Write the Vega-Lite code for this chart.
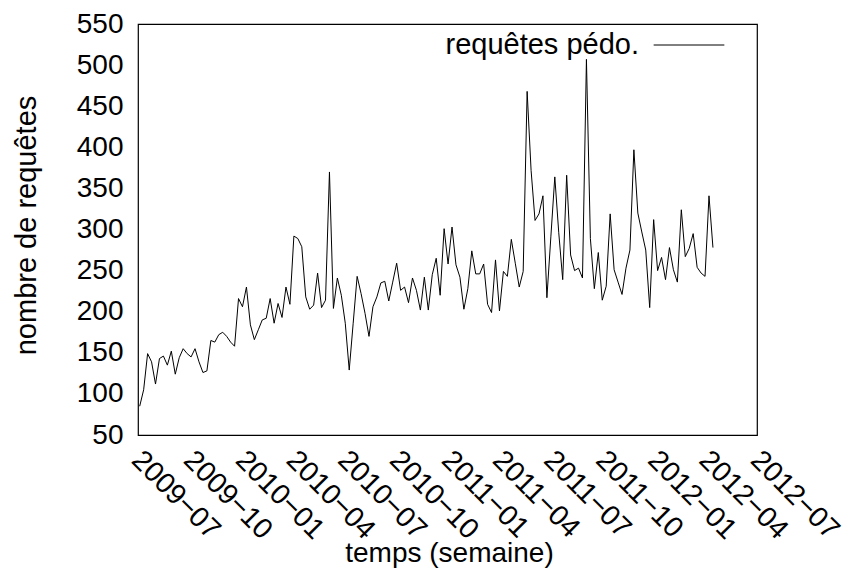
{
  "$schema": "https://vega.github.io/schema/vega-lite/v6.json",
  "width": 619,
  "height": 411,
  "autosize": "none",
  "padding": {"left": 138, "top": 24, "right": 90, "bottom": 143},
  "background": "white",
  "config": {
    "view": {"stroke": "black", "strokeWidth": 1.2},
    "font": "Liberation Sans",
    "axis": {"grid": false, "domainColor": "black", "tickColor": "black", "labelColor": "black", "titleColor": "black", "titleFontWeight": "normal", "labelFont": "Liberation Sans", "titleFont": "Liberation Sans"}
  },
  "data": {"values": [
    {"semaine": "2009-07-04", "requetes": 85},
    {"semaine": "2009-07-11", "requetes": 105},
    {"semaine": "2009-07-18", "requetes": 149},
    {"semaine": "2009-07-25", "requetes": 139},
    {"semaine": "2009-08-01", "requetes": 112},
    {"semaine": "2009-08-08", "requetes": 143},
    {"semaine": "2009-08-15", "requetes": 146},
    {"semaine": "2009-08-22", "requetes": 135},
    {"semaine": "2009-08-29", "requetes": 152},
    {"semaine": "2009-09-05", "requetes": 124},
    {"semaine": "2009-09-12", "requetes": 144},
    {"semaine": "2009-09-19", "requetes": 155},
    {"semaine": "2009-09-26", "requetes": 149},
    {"semaine": "2009-10-03", "requetes": 145},
    {"semaine": "2009-10-10", "requetes": 155},
    {"semaine": "2009-10-17", "requetes": 139},
    {"semaine": "2009-10-24", "requetes": 126},
    {"semaine": "2009-10-31", "requetes": 128},
    {"semaine": "2009-11-07", "requetes": 165},
    {"semaine": "2009-11-14", "requetes": 163},
    {"semaine": "2009-11-21", "requetes": 172},
    {"semaine": "2009-11-28", "requetes": 175},
    {"semaine": "2009-12-05", "requetes": 170},
    {"semaine": "2009-12-12", "requetes": 163},
    {"semaine": "2009-12-19", "requetes": 158},
    {"semaine": "2009-12-26", "requetes": 216},
    {"semaine": "2010-01-02", "requetes": 206},
    {"semaine": "2010-01-09", "requetes": 230},
    {"semaine": "2010-01-16", "requetes": 184},
    {"semaine": "2010-01-23", "requetes": 166},
    {"semaine": "2010-01-30", "requetes": 178},
    {"semaine": "2010-02-06", "requetes": 190},
    {"semaine": "2010-02-13", "requetes": 192},
    {"semaine": "2010-02-20", "requetes": 216},
    {"semaine": "2010-02-27", "requetes": 186},
    {"semaine": "2010-03-06", "requetes": 210},
    {"semaine": "2010-03-13", "requetes": 193},
    {"semaine": "2010-03-20", "requetes": 230},
    {"semaine": "2010-03-27", "requetes": 209},
    {"semaine": "2010-04-03", "requetes": 292},
    {"semaine": "2010-04-10", "requetes": 289},
    {"semaine": "2010-04-17", "requetes": 279},
    {"semaine": "2010-04-24", "requetes": 218},
    {"semaine": "2010-05-01", "requetes": 203},
    {"semaine": "2010-05-08", "requetes": 208},
    {"semaine": "2010-05-15", "requetes": 247},
    {"semaine": "2010-05-22", "requetes": 205},
    {"semaine": "2010-05-29", "requetes": 214},
    {"semaine": "2010-06-05", "requetes": 370},
    {"semaine": "2010-06-12", "requetes": 204},
    {"semaine": "2010-06-19", "requetes": 241},
    {"semaine": "2010-06-26", "requetes": 220},
    {"semaine": "2010-07-03", "requetes": 186},
    {"semaine": "2010-07-10", "requetes": 129},
    {"semaine": "2010-07-17", "requetes": 186},
    {"semaine": "2010-07-24", "requetes": 243},
    {"semaine": "2010-07-31", "requetes": 222},
    {"semaine": "2010-08-07", "requetes": 198},
    {"semaine": "2010-08-14", "requetes": 170},
    {"semaine": "2010-08-21", "requetes": 206},
    {"semaine": "2010-08-28", "requetes": 218},
    {"semaine": "2010-09-04", "requetes": 235},
    {"semaine": "2010-09-11", "requetes": 237},
    {"semaine": "2010-09-18", "requetes": 213},
    {"semaine": "2010-09-25", "requetes": 236},
    {"semaine": "2010-10-02", "requetes": 259},
    {"semaine": "2010-10-09", "requetes": 226},
    {"semaine": "2010-10-16", "requetes": 230},
    {"semaine": "2010-10-23", "requetes": 211},
    {"semaine": "2010-10-30", "requetes": 241},
    {"semaine": "2010-11-06", "requetes": 226},
    {"semaine": "2010-11-13", "requetes": 202},
    {"semaine": "2010-11-20", "requetes": 242},
    {"semaine": "2010-11-27", "requetes": 202},
    {"semaine": "2010-12-04", "requetes": 245},
    {"semaine": "2010-12-11", "requetes": 265},
    {"semaine": "2010-12-18", "requetes": 220},
    {"semaine": "2010-12-25", "requetes": 301},
    {"semaine": "2011-01-01", "requetes": 258},
    {"semaine": "2011-01-08", "requetes": 303},
    {"semaine": "2011-01-15", "requetes": 257},
    {"semaine": "2011-01-22", "requetes": 242},
    {"semaine": "2011-01-29", "requetes": 203},
    {"semaine": "2011-02-05", "requetes": 228},
    {"semaine": "2011-02-12", "requetes": 274},
    {"semaine": "2011-02-19", "requetes": 246},
    {"semaine": "2011-02-26", "requetes": 246},
    {"semaine": "2011-03-05", "requetes": 258},
    {"semaine": "2011-03-12", "requetes": 209},
    {"semaine": "2011-03-19", "requetes": 199},
    {"semaine": "2011-03-26", "requetes": 263},
    {"semaine": "2011-04-02", "requetes": 201},
    {"semaine": "2011-04-09", "requetes": 249},
    {"semaine": "2011-04-16", "requetes": 243},
    {"semaine": "2011-04-23", "requetes": 288},
    {"semaine": "2011-04-30", "requetes": 259},
    {"semaine": "2011-05-07", "requetes": 230},
    {"semaine": "2011-05-14", "requetes": 249},
    {"semaine": "2011-05-21", "requetes": 468},
    {"semaine": "2011-05-28", "requetes": 372},
    {"semaine": "2011-06-04", "requetes": 311},
    {"semaine": "2011-06-11", "requetes": 319},
    {"semaine": "2011-06-18", "requetes": 341},
    {"semaine": "2011-06-25", "requetes": 217},
    {"semaine": "2011-07-02", "requetes": 291},
    {"semaine": "2011-07-09", "requetes": 364},
    {"semaine": "2011-07-16", "requetes": 296},
    {"semaine": "2011-07-23", "requetes": 239},
    {"semaine": "2011-07-30", "requetes": 366},
    {"semaine": "2011-08-06", "requetes": 269},
    {"semaine": "2011-08-13", "requetes": 250},
    {"semaine": "2011-08-20", "requetes": 253},
    {"semaine": "2011-08-27", "requetes": 241},
    {"semaine": "2011-09-03", "requetes": 507},
    {"semaine": "2011-09-10", "requetes": 289},
    {"semaine": "2011-09-17", "requetes": 228},
    {"semaine": "2011-09-24", "requetes": 272},
    {"semaine": "2011-10-01", "requetes": 214},
    {"semaine": "2011-10-08", "requetes": 231},
    {"semaine": "2011-10-15", "requetes": 319},
    {"semaine": "2011-10-22", "requetes": 251},
    {"semaine": "2011-10-29", "requetes": 236},
    {"semaine": "2011-11-05", "requetes": 221},
    {"semaine": "2011-11-12", "requetes": 253},
    {"semaine": "2011-11-19", "requetes": 275},
    {"semaine": "2011-11-26", "requetes": 397},
    {"semaine": "2011-12-03", "requetes": 320},
    {"semaine": "2011-12-10", "requetes": 297},
    {"semaine": "2011-12-17", "requetes": 275},
    {"semaine": "2011-12-24", "requetes": 205},
    {"semaine": "2011-12-31", "requetes": 312},
    {"semaine": "2012-01-07", "requetes": 250},
    {"semaine": "2012-01-14", "requetes": 266},
    {"semaine": "2012-01-21", "requetes": 239},
    {"semaine": "2012-01-28", "requetes": 278},
    {"semaine": "2012-02-04", "requetes": 251},
    {"semaine": "2012-02-11", "requetes": 236},
    {"semaine": "2012-02-18", "requetes": 324},
    {"semaine": "2012-02-25", "requetes": 267},
    {"semaine": "2012-03-03", "requetes": 277},
    {"semaine": "2012-03-10", "requetes": 295},
    {"semaine": "2012-03-17", "requetes": 254},
    {"semaine": "2012-03-24", "requetes": 247},
    {"semaine": "2012-03-31", "requetes": 243},
    {"semaine": "2012-04-07", "requetes": 341},
    {"semaine": "2012-04-14", "requetes": 278}
  ]},
  "mark": {"type": "line", "color": "black", "strokeWidth": 1, "clip": true},
  "encoding": {
    "x": {
      "field": "semaine",
      "type": "temporal",
      "scale": {"type": "utc", "domain": [{"year": 2009, "month": 7, "date": 1, "utc": true}, {"year": 2012, "month": 7, "date": 1, "utc": true}], "nice": false},
      "axis": {
        "title": "temps (semaine)",
        "titleFontSize": 28,
        "titleX": 311,
        "titleY": 126,
        "titleBaseline": "alphabetic",
        "tickCount": {"interval": "month", "step": 1},
        "tickSize": 0,
        "tickWidth": 1,
        "labelExpr": "utcmonth(datum.value) % 3 == 0 ? utcFormat(datum.value, '%Y\u2212%m') : ''",
        "labelAngle": 45,
        "labelAlign": "left",
        "labelBaseline": "top",
        "labelPadding": 10,
        "labelOffset": 8,
        "labelFontSize": 28.5,
        "labelOverlap": false,
        "labelFlush": false,
        "labelBound": false,
        "domain": false,
        "encode": {"ticks": {"update": {"y2": {"signal": "utcmonth(datum.value) % 3 == 0 ? -9 : -5"}}}}
      }
    },
    "y": {
      "field": "requetes",
      "type": "quantitative",
      "scale": {"domain": [50, 550], "nice": false, "zero": false},
      "axis": {
        "title": "nombre de requêtes",
        "titleFontSize": 29,
        "titleX": -97,
        "titleY": 201,
        "values": [50, 100, 150, 200, 250, 300, 350, 400, 450, 500, 550],
        "tickSize": 0,
        "tickWidth": 1,
        "labelPadding": 15,
        "labelFontSize": 28,
        "labelOverlap": false,
        "labelFlush": false,
        "domain": false,
        "encode": {"ticks": {"update": {"x2": {"value": 8}}}}
      }
    },
    "color": {
      "datum": "requêtes pédo.",
      "scale": {"range": ["black"]},
      "legend": {
        "title": null,
        "orient": "none",
        "legendX": 515,
        "legendY": -15,
        "padding": 0,
        "symbolType": "stroke",
        "symbolSize": 5000,
        "symbolStrokeWidth": 1,
        "symbolStrokeColor": "black",
        "labelFontSize": 29,
        "labelFont": "Liberation Sans",
        "labelColor": "black",
        "labelAlign": "right",
        "labelOffset": -86,
        "labelLimit": 0
      }
    }
  }
}
